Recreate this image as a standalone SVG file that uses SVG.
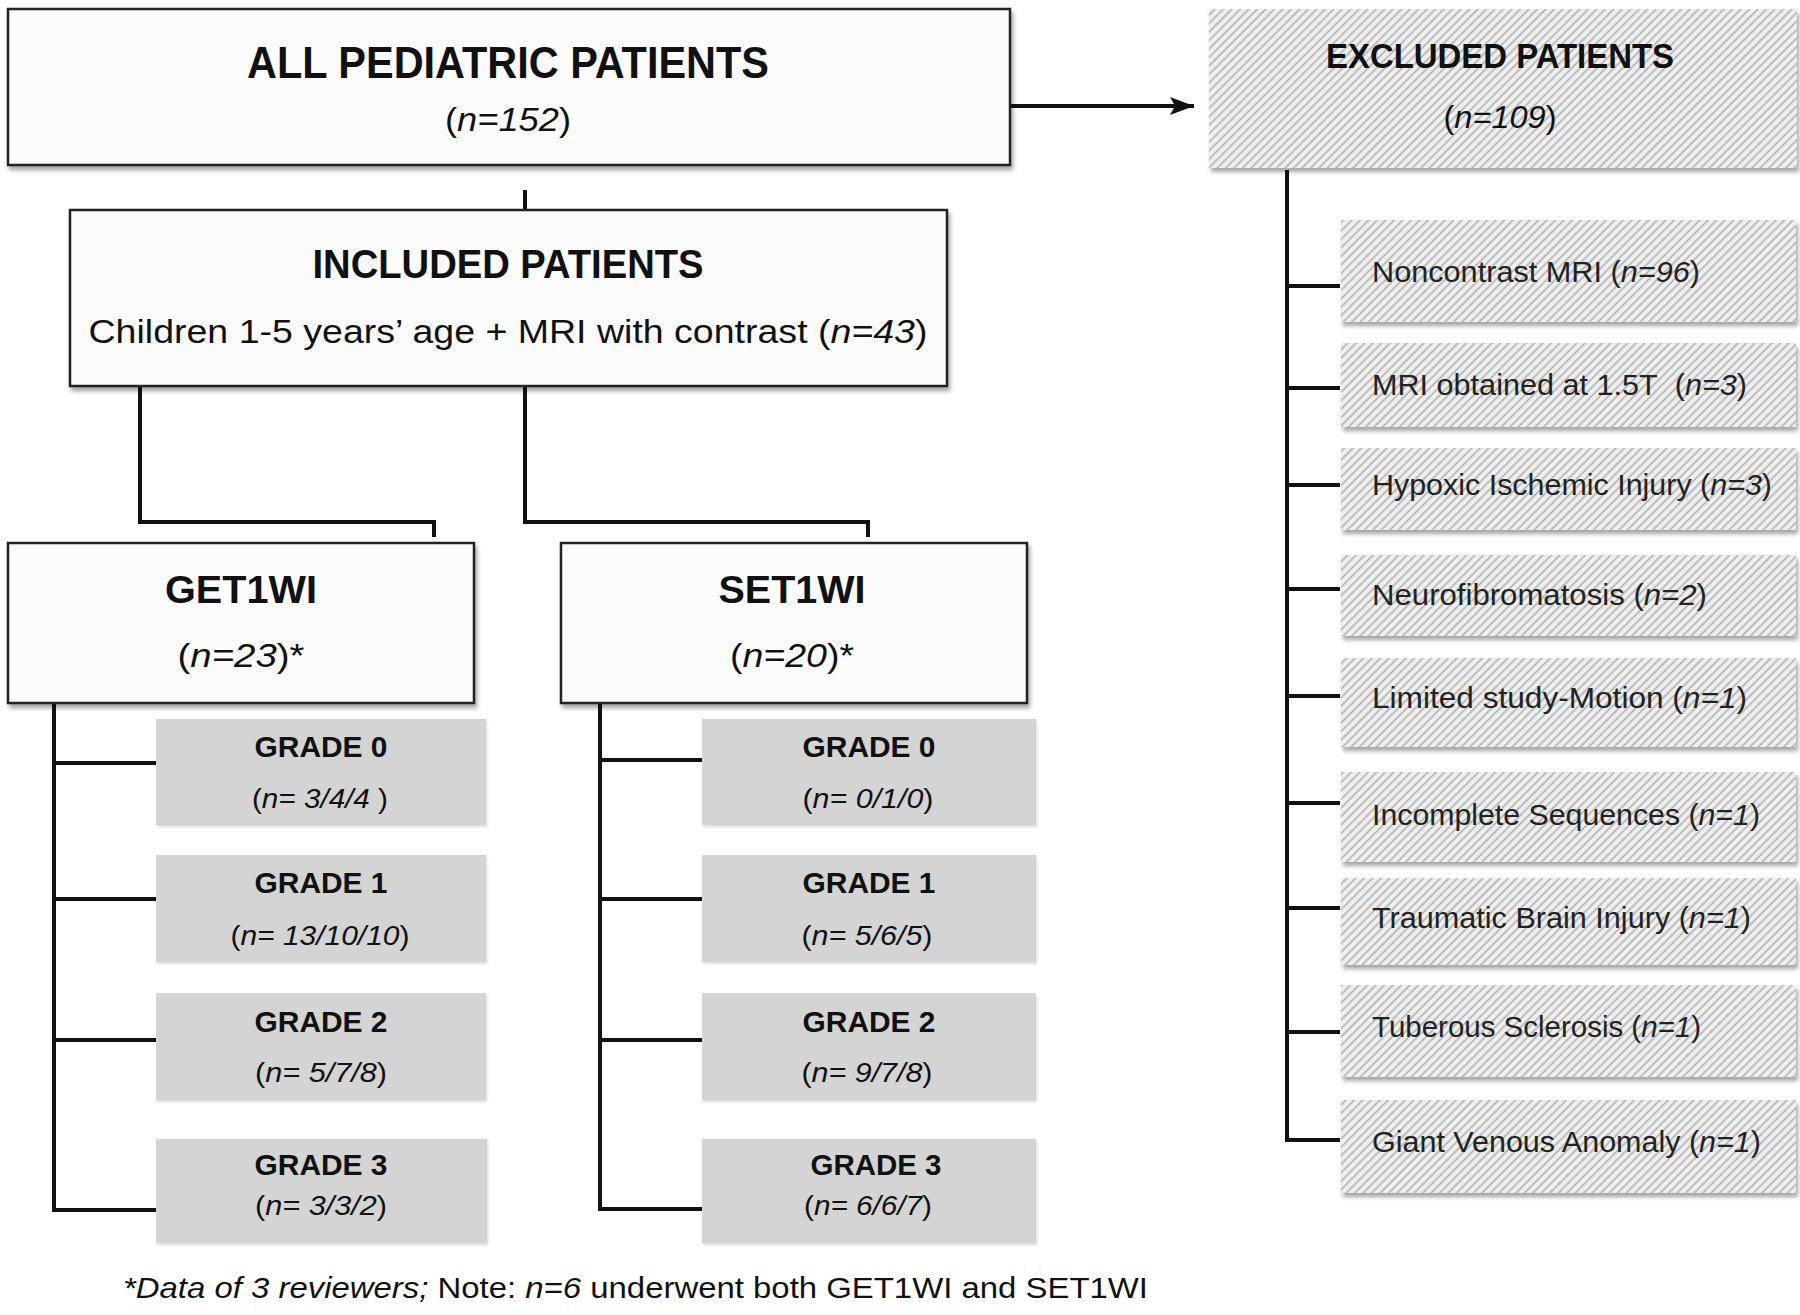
<svg xmlns="http://www.w3.org/2000/svg" width="1800" height="1315" viewBox="0 0 1800 1315">
<defs>
<pattern id="hatch" patternUnits="userSpaceOnUse" width="6" height="6" patternTransform="rotate(45)">
<rect width="6" height="6" fill="#efefef"/>
<line x1="1.5" y1="0" x2="1.5" y2="6" stroke="#ababab" stroke-width="1.5"/>
</pattern>
<filter id="sh" x="-5%" y="-10%" width="115%" height="130%">
<feDropShadow dx="2" dy="4" stdDeviation="2.2" flood-color="#000" flood-opacity="0.35"/>
</filter>
<filter id="sh2" x="-5%" y="-10%" width="115%" height="130%">
<feDropShadow dx="1" dy="2" stdDeviation="1.5" flood-color="#000" flood-opacity="0.15"/>
</filter>
<marker id="arr" markerUnits="userSpaceOnUse" markerWidth="26" markerHeight="24" refX="24" refY="12" orient="auto">
<path d="M0,3 L24,12 L0,21 L5,12 Z" fill="#111"/>
</marker>
</defs>
<style>
text{font-family:"Liberation Sans",Arial,sans-serif;fill:#111;}
.b{font-weight:bold;}
.i{font-style:italic;}
.main{fill:#fbfbfb;stroke:#222;stroke-width:2.5;filter:url(#sh);}
.hat{fill:url(#hatch);filter:url(#sh);}
.gr{fill:#d4d4d4;filter:url(#sh2);}
.con{fill:none;stroke:#111;stroke-width:4;}
.ex{font-size:30px;fill:#222;}
.gt{font-size:30px;font-weight:bold;text-anchor:middle;}
.gn{font-size:27px;text-anchor:middle;}
</style>
<rect width="1800" height="1315" fill="#fff"/>

<g id="connectors">
<line class="con" x1="1010" y1="106" x2="1194" y2="106" marker-end="url(#arr)"/>
<line class="con" x1="525" y1="190" x2="525" y2="210"/>
<polyline class="con" points="140,386 140,522 434,522 434,537"/>
<polyline class="con" points="525,386 525,522 868,522 868,537"/>
<polyline class="con" points="54,703 54,1210 156,1210"/>
<line class="con" x1="54" y1="763" x2="156" y2="763"/>
<line class="con" x1="54" y1="899" x2="156" y2="899"/>
<line class="con" x1="54" y1="1040" x2="156" y2="1040"/>
<polyline class="con" points="600,703 600,1209 702,1209"/>
<line class="con" x1="600" y1="760" x2="702" y2="760"/>
<line class="con" x1="600" y1="899" x2="702" y2="899"/>
<line class="con" x1="600" y1="1040" x2="702" y2="1040"/>
<polyline class="con" points="1287,170 1287,1140 1340,1140"/>
<line class="con" x1="1287" y1="286" x2="1340" y2="286"/>
<line class="con" x1="1287" y1="388" x2="1340" y2="388"/>
<line class="con" x1="1287" y1="485" x2="1340" y2="485"/>
<line class="con" x1="1287" y1="589" x2="1340" y2="589"/>
<line class="con" x1="1287" y1="696" x2="1340" y2="696"/>
<line class="con" x1="1287" y1="803" x2="1340" y2="803"/>
<line class="con" x1="1287" y1="908" x2="1340" y2="908"/>
<line class="con" x1="1287" y1="1032" x2="1340" y2="1032"/>
</g>

<g id="all-patients">
<rect class="main" x="8" y="9" width="1002" height="156"/>
<text class="b" x="508" y="78" font-size="45" text-anchor="middle" textLength="522" lengthAdjust="spacingAndGlyphs">ALL PEDIATRIC PATIENTS</text>
<text x="508" y="131" font-size="34" text-anchor="middle" textLength="126" lengthAdjust="spacingAndGlyphs">(<tspan class="i">n=152</tspan>)</text>
</g>

<g id="excluded">
<rect class="hat" x="1209" y="9" width="588" height="159"/>
<text class="b" x="1500" y="68" font-size="35" text-anchor="middle" textLength="348" lengthAdjust="spacingAndGlyphs">EXCLUDED PATIENTS</text>
<text x="1500" y="128" font-size="32" text-anchor="middle" textLength="113" lengthAdjust="spacingAndGlyphs">(<tspan class="i">n=109</tspan>)</text>
</g>

<g id="included">
<rect class="main" x="70" y="210" width="877" height="176"/>
<text class="b" x="508" y="278" font-size="41" text-anchor="middle" textLength="391" lengthAdjust="spacingAndGlyphs">INCLUDED PATIENTS</text>
<text x="508" y="343" font-size="33" text-anchor="middle" textLength="839" lengthAdjust="spacingAndGlyphs">Children 1-5 years’ age + MRI with contrast (<tspan class="i">n=43</tspan>)</text>
</g>

<g id="get1wi">
<rect class="main" x="8" y="543" width="466" height="160"/>
<text class="b" x="241" y="603" font-size="38" text-anchor="middle" textLength="152" lengthAdjust="spacingAndGlyphs">GET1WI</text>
<text x="241" y="667" font-size="34" text-anchor="middle" textLength="127" lengthAdjust="spacingAndGlyphs">(<tspan class="i">n=23</tspan>)*</text>
</g>

<g id="set1wi">
<rect class="main" x="561" y="543" width="466" height="160"/>
<text class="b" x="792" y="603" font-size="38" text-anchor="middle" textLength="147" lengthAdjust="spacingAndGlyphs">SET1WI</text>
<text x="792" y="667" font-size="34" text-anchor="middle" textLength="124" lengthAdjust="spacingAndGlyphs">(<tspan class="i">n=20</tspan>)*</text>
</g>

<g id="get-grade0">
<rect class="gr" x="156" y="719" width="330" height="106"/>
<text class="gt" x="321" y="757" textLength="133" lengthAdjust="spacingAndGlyphs">GRADE 0</text>
<text class="gn" x="320" y="808" textLength="136" lengthAdjust="spacingAndGlyphs">(<tspan class="i">n= 3/4/4 </tspan>)</text>
</g>
<g id="get-grade1">
<rect class="gr" x="156" y="855" width="330" height="107"/>
<text class="gt" x="321" y="893" textLength="133" lengthAdjust="spacingAndGlyphs">GRADE 1</text>
<text class="gn" x="320" y="945" textLength="179" lengthAdjust="spacingAndGlyphs">(<tspan class="i">n= 13/10/10</tspan>)</text>
</g>
<g id="get-grade2">
<rect class="gr" x="156" y="993" width="330" height="107"/>
<text class="gt" x="321" y="1032" textLength="133" lengthAdjust="spacingAndGlyphs">GRADE 2</text>
<text class="gn" x="321" y="1082" textLength="132" lengthAdjust="spacingAndGlyphs">(<tspan class="i">n= 5/7/8</tspan>)</text>
</g>
<g id="get-grade3">
<rect class="gr" x="156" y="1139" width="331" height="104"/>
<text class="gt" x="321" y="1175" textLength="133" lengthAdjust="spacingAndGlyphs">GRADE 3</text>
<text class="gn" x="321" y="1215" textLength="132" lengthAdjust="spacingAndGlyphs">(<tspan class="i">n= 3/3/2</tspan>)</text>
</g>

<g id="set-grade0">
<rect class="gr" x="702" y="719" width="334" height="106"/>
<text class="gt" x="869" y="757" textLength="133" lengthAdjust="spacingAndGlyphs">GRADE 0</text>
<text class="gn" x="868" y="808" textLength="131" lengthAdjust="spacingAndGlyphs">(<tspan class="i">n= 0/1/0</tspan>)</text>
</g>
<g id="set-grade1">
<rect class="gr" x="702" y="855" width="334" height="107"/>
<text class="gt" x="869" y="893" textLength="133" lengthAdjust="spacingAndGlyphs">GRADE 1</text>
<text class="gn" x="867" y="945" textLength="131" lengthAdjust="spacingAndGlyphs">(<tspan class="i">n= 5/6/5</tspan>)</text>
</g>
<g id="set-grade2">
<rect class="gr" x="702" y="993" width="334" height="107"/>
<text class="gt" x="869" y="1032" textLength="133" lengthAdjust="spacingAndGlyphs">GRADE 2</text>
<text class="gn" x="867" y="1082" textLength="131" lengthAdjust="spacingAndGlyphs">(<tspan class="i">n= 9/7/8</tspan>)</text>
</g>
<g id="set-grade3">
<rect class="gr" x="702" y="1139" width="334" height="104"/>
<text class="gt" x="876" y="1175" textLength="131" lengthAdjust="spacingAndGlyphs">GRADE 3</text>
<text class="gn" x="868" y="1215" textLength="128" lengthAdjust="spacingAndGlyphs">(<tspan class="i">n= 6/6/7</tspan>)</text>
</g>

<g id="ex-noncontrast">
<rect class="hat" x="1341" y="220" width="455" height="102"/>
<text class="ex" x="1372" y="282" textLength="328" lengthAdjust="spacingAndGlyphs">Noncontrast MRI (<tspan class="i">n=96</tspan>)</text>
</g>
<g id="ex-15t">
<rect class="hat" x="1341" y="343" width="455" height="84"/>
<text class="ex" x="1372" y="395" textLength="375" lengthAdjust="spacingAndGlyphs">MRI obtained at 1.5T&#160; (<tspan class="i">n=3</tspan>)</text>
</g>
<g id="ex-hypoxic">
<rect class="hat" x="1341" y="448" width="455" height="82"/>
<text class="ex" x="1372" y="495" textLength="400" lengthAdjust="spacingAndGlyphs">Hypoxic Ischemic Injury (<tspan class="i">n=3</tspan>)</text>
</g>
<g id="ex-neuro">
<rect class="hat" x="1341" y="555" width="455" height="81"/>
<text class="ex" x="1372" y="605" textLength="335" lengthAdjust="spacingAndGlyphs">Neurofibromatosis (<tspan class="i">n=2</tspan>)</text>
</g>
<g id="ex-motion">
<rect class="hat" x="1341" y="658" width="455" height="89"/>
<text class="ex" x="1372" y="708" textLength="375" lengthAdjust="spacingAndGlyphs">Limited study-Motion (<tspan class="i">n=1</tspan>)</text>
</g>
<g id="ex-incomplete">
<rect class="hat" x="1341" y="772" width="455" height="90"/>
<text class="ex" x="1372" y="825" textLength="388" lengthAdjust="spacingAndGlyphs">Incomplete Sequences (<tspan class="i">n=1</tspan>)</text>
</g>
<g id="ex-trauma">
<rect class="hat" x="1341" y="878" width="455" height="87"/>
<text class="ex" x="1372" y="928" textLength="379" lengthAdjust="spacingAndGlyphs">Traumatic Brain Injury (<tspan class="i">n=1</tspan>)</text>
</g>
<g id="ex-tuberous">
<rect class="hat" x="1341" y="985" width="455" height="92"/>
<text class="ex" x="1372" y="1037" textLength="329" lengthAdjust="spacingAndGlyphs">Tuberous Sclerosis (<tspan class="i">n=1</tspan>)</text>
</g>
<g id="ex-venous">
<rect class="hat" x="1341" y="1100" width="455" height="93"/>
<text class="ex" x="1372" y="1152" textLength="389" lengthAdjust="spacingAndGlyphs">Giant Venous Anomaly (<tspan class="i">n=1</tspan>)</text>
</g>

<g id="footnote">
<text x="123" y="1298" font-size="29" textLength="1025" lengthAdjust="spacingAndGlyphs"><tspan class="i">*Data of 3 reviewers;</tspan> Note: <tspan class="i">n=6</tspan> underwent both GET1WI and SET1WI</text>
</g>
</svg>
